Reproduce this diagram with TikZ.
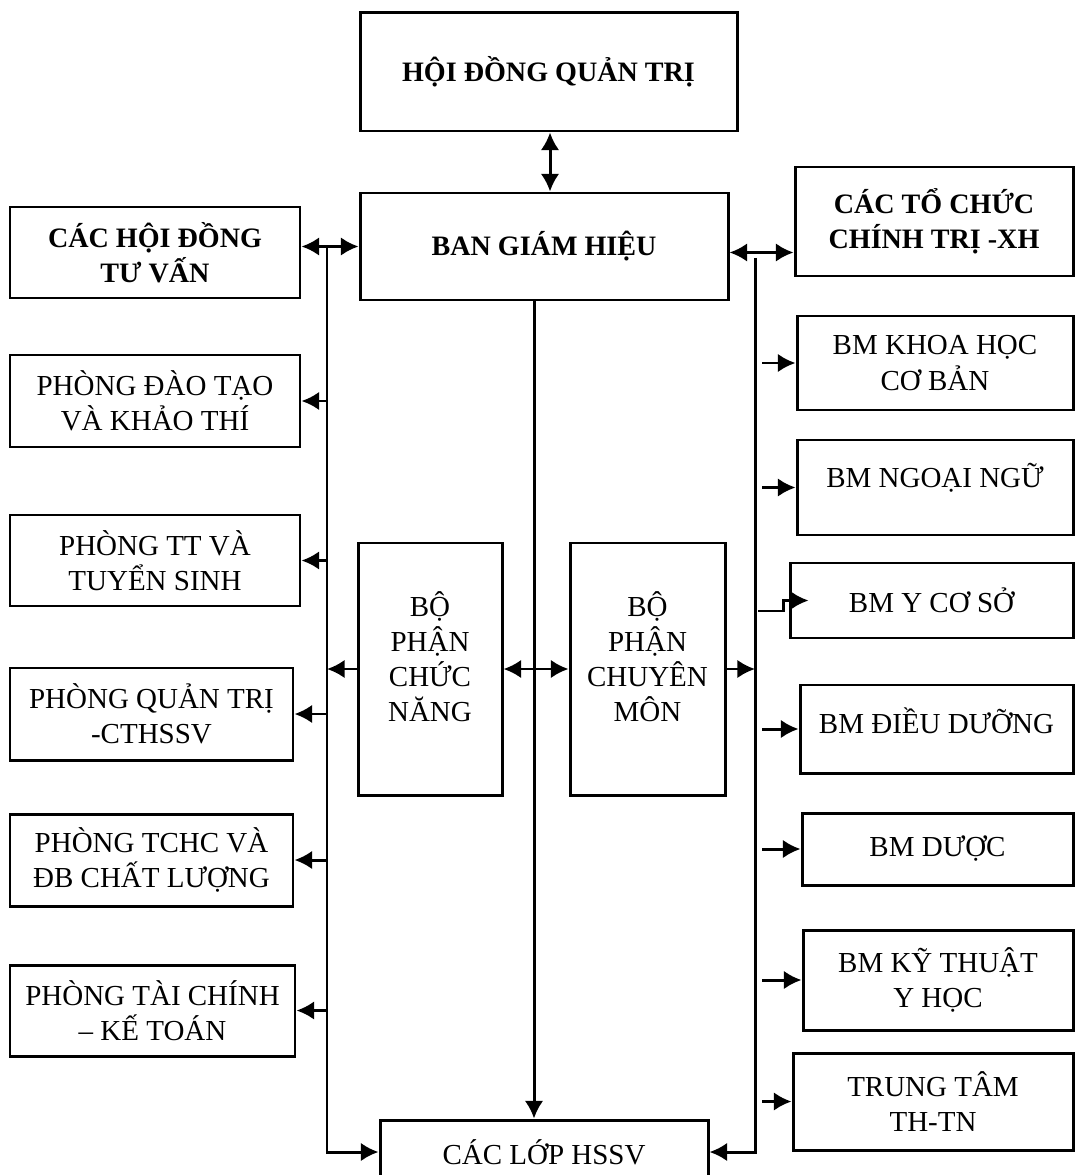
\documentclass[tikz,border=0pt]{standalone}
\usepackage{fontspec}
\setmainfont{Liberation Serif}
\usetikzlibrary{arrows.meta,calc}
\newcommand{\bx}[7]{%
  \node[box,#7,minimum width={(#4-#2)*0.02cm},minimum height={(#5-#3)*0.02cm}]
    (#1) at ({(#2+#4)/2},{(#3+#5)/2}) {#6};}
\begin{document}
\begin{tikzpicture}[x=0.02cm,y=-0.02cm,
  box/.style={draw,line width=1.7pt,align=center,inner sep=0pt,
    font=\fontsize{16.5}{20}\selectfont},
  bold/.style={font=\fontsize{16}{20}\selectfont\bfseries},
  tip/.tip={Latex[length=10pt,width=10.5pt]},
  conn/.style={line width=1.7pt,-tip},
  dconn/.style={line width=1.7pt,tip-tip}]
\useasboundingbox (0,0) rectangle (1076,1175);
\clip (0,0) rectangle (1076,1175);
\fill[white] (0,0) rectangle (1076,1175);
% boxes
\bx{hdqt}{360}{13}{737}{131}{HỘI ĐỒNG QUẢN TRỊ}{bold}
\bx{bgh}{360}{193}{728}{300}{BAN GIÁM HIỆU}{bold}
\bx{hdtv}{10}{207}{300}{298}{CÁC HỘI ĐỒNG\\TƯ VẤN}{bold}
\bx{tcct}{795}{167}{1073}{276}{CÁC TỔ CHỨC\\CHÍNH TRỊ -XH}{bold}
\bx{p1}{10}{355}{300}{447}{PHÒNG ĐÀO TẠO\\VÀ KHẢO THÍ}{}
\bx{p2}{10}{515}{300}{606}{PHÒNG TT VÀ\\TUYỂN SINH}{}
\bx{p3}{10}{668}{293}{760}{PHÒNG QUẢN TRỊ\\-CTHSSV}{}
\bx{p4}{10}{814}{293}{906}{PHÒNG TCHC VÀ\\ĐB CHẤT LƯỢNG}{}
\bx{p5}{10}{965}{295}{1056}{PHÒNG TÀI CHÍNH\\– KẾ TOÁN}{}
\bx{cn}{358}{543}{502}{795}{BỘ\\PHẬN\\CHỨC\\NĂNG\\[-6pt]~}{}
\bx{cm}{570}{543}{725}{795}{BỘ\\PHẬN\\CHUYÊN\\MÔN\\[-6pt]~}{}
\bx{b1}{797}{316}{1073}{410}{BM KHOA HỌC\\CƠ BẢN}{}
\bx{b2}{797}{440}{1073}{535}{BM NGOẠI NGỮ\\[-6pt]~}{}
\bx{b3}{790}{563}{1073}{638}{BM Y CƠ SỞ}{}
\bx{b4}{800}{685}{1073}{773}{BM ĐIỀU DƯỠNG\\[-10pt]~}{}
\bx{b5}{802}{813}{1073}{885}{BM DƯỢC}{}
\bx{b6}{803}{930}{1073}{1030}{BM KỸ THUẬT\\Y HỌC}{}
\bx{b7}{793}{1053}{1073}{1150}{TRUNG TÂM\\TH-TN}{}
\bx{lop}{380}{1120}{708}{1184}{CÁC LỚP HSSV}{}
% helper coordinates
\coordinate (L1) at (327,247);
\coordinate (R1) at (755,258);
\coordinate (cx) at (534,0);
\coordinate (hx) at (550,0);
\coordinate (j) at (783,611);
% top
\draw[dconn] (hdqt.south -| hx) -- (bgh.north -| hx);
\draw[dconn] (bgh.west) -- (bgh.west -| hdtv.east);
\draw[dconn] ([yshift=-0.12cm]bgh.east) -- ([yshift=-0.12cm]bgh.east -| tcct.west);
% left bus
\draw[conn] (L1) |- (lop.west);
\foreach \n in {p1,p2,p3,p4,p5} \draw[conn] (\n.east -| L1) -- (\n.east);
\draw[conn] (cn.west) -- (cn.west -| L1);
% centre
\draw[dconn] (cn.east) -- (cm.west);
\draw[conn] (bgh.south -| cx) -- (lop.north -| cx);
% right bus
\draw[conn] (R1) |- (lop.east);
\draw[conn] (cm.east) -- (cm.east -| R1);
\foreach \n in {b1,b2,b4,b5,b6,b7} \draw[conn] ([xshift=0.14cm]\n.west -| R1) -- (\n.west);
\draw[conn] ([xshift=0.06cm]j -| R1) -- (j) |- ([xshift=0.4cm]b3.west);
\end{tikzpicture}
\end{document}
